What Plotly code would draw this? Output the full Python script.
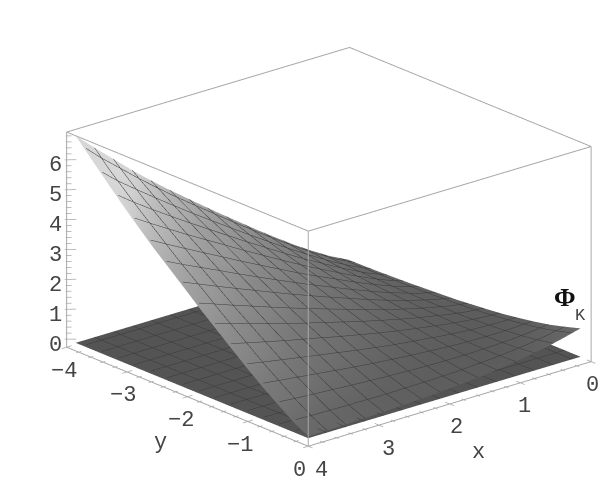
import numpy as np
import plotly.graph_objects as go

# Values
x_vals = [0.15, 0.407, 0.663, 0.92, 1.177, 1.433, 1.69, 1.947, 2.203, 2.46, 2.717, 2.973, 3.23, 3.487, 3.743, 4.0]
y_vals = [0, -0.26, -0.51, -0.77, -1.03, -1.28, -1.54, -1.8, -2.05, -2.31, -2.57, -2.82, -3.08, -3.34, -3.59, -3.85]
x_ticks = [0, 1, 2, 3, 4]
y_ticks = [-4, -3, -2, -1, 0]
z_ticks = [0, 1, 2, 3, 4, 5, 6]
x_range = [0, 4]
y_range = [-4, 0]
z_range = [-0.27, 6.93]

# rows follow x_vals, columns follow y_vals
phi_k = [
    [.95, .79, .65, .54, .45, .37, .31, .26, .21, .18, .15, .12, .10, .08, .07, .06],
    [.79, .67, .57, .50, .44, .40, .36, .34, .33, .32, .31, .32, .32, .33, .34, .36],
    [.65, .57, .52, .48, .46, .45, .45, .46, .48, .50, .53, .56, .60, .63, .67, .72],
    [.54, .50, .48, .48, .49, .52, .56, .60, .65, .70, .76, .83, .90, .97, 1.04, 1.11],
    [.45, .44, .46, .49, .54, .61, .67, .74, .83, .92, 1.02, 1.12, 1.22, 1.32, 1.42, 1.53],
    [.37, .40, .45, .52, .61, .70, .80, .91, 1.03, 1.15, 1.29, 1.41, 1.54, 1.68, 1.82, 1.96],
    [.31, .36, .45, .56, .67, .80, .94, 1.08, 1.24, 1.40, 1.55, 1.72, 1.88, 2.06, 2.23, 2.41],
    [.26, .34, .46, .60, .74, .91, 1.08, 1.27, 1.45, 1.64, 1.83, 2.03, 2.24, 2.44, 2.65, 2.86],
    [.21, .33, .48, .65, .83, 1.03, 1.24, 1.45, 1.67, 1.89, 2.12, 2.36, 2.59, 2.83, 3.08, 3.32],
    [.18, .32, .50, .70, .92, 1.15, 1.40, 1.64, 1.89, 2.15, 2.42, 2.68, 2.96, 3.23, 3.50, 3.79],
    [.15, .31, .53, .76, 1.02, 1.29, 1.55, 1.83, 2.12, 2.42, 2.71, 3.02, 3.33, 3.63, 3.94, 4.26],
    [.12, .32, .56, .83, 1.12, 1.41, 1.72, 2.03, 2.36, 2.68, 3.02, 3.36, 3.69, 4.04, 4.39, 4.75],
    [.10, .32, .60, .90, 1.22, 1.54, 1.88, 2.24, 2.59, 2.96, 3.33, 3.69, 4.07, 4.46, 4.85, 5.27],
    [.08, .33, .63, .97, 1.32, 1.68, 2.06, 2.44, 2.83, 3.23, 3.63, 4.04, 4.46, 4.88, 5.33, 5.82],
    [.07, .34, .67, 1.04, 1.42, 1.82, 2.23, 2.65, 3.08, 3.50, 3.94, 4.39, 4.85, 5.33, 5.80, 6.36],
    [.06, .36, .72, 1.11, 1.53, 1.96, 2.41, 2.86, 3.32, 3.79, 4.26, 4.75, 5.27, 5.82, 6.36, 6.93],
]

frame_color = "#a8a8a8"
mesh_color = "#3a3a3a"
text_color = "#444444"

# plotly wants z[row][col] with rows along y
phi_z = np.array(phi_k).T
plane_z = np.zeros_like(phi_z)

# shade from the slope of the sheet, steep parts come out light
dz_dy, dz_dx = np.gradient(phi_z, y_vals, x_vals)
slope = np.abs(dz_dx) + np.abs(dz_dy)
phi_shade = np.clip(0.36 + 0.036 * slope ** 2, 0, 0.84)
plane_shade = np.full_like(phi_z, 0.33)

fig = go.Figure()

for z, shade in ((plane_z, plane_shade), (phi_z, phi_shade)):
    fig.add_trace(go.Surface(
        x=x_vals, y=y_vals, z=z,
        surfacecolor=shade,
        cmin=0, cmax=1,
        colorscale=[[0, "black"], [1, "white"]],
        showscale=False,
        hoverinfo="skip",
        lighting=dict(ambient=1, diffuse=0, specular=0, roughness=1, fresnel=0),
        contours=dict(
            x=dict(show=True, start=x_range[0], end=x_range[1], size=0.2667, color=mesh_color, width=1, highlight=False),
            y=dict(show=True, start=y_range[0], end=y_range[1], size=0.2667, color=mesh_color, width=1, highlight=False),
            z=dict(highlight=False),
        ),
    ))

x0, x1 = x_range
y0, y1 = y_range
z0, z1 = z_range


def add_lines(segments, width):
    xs, ys, zs = [], [], []
    for seg in segments:
        for p in seg:
            xs.append(p[0]); ys.append(p[1]); zs.append(p[2])
        xs.append(None); ys.append(None); zs.append(None)
    fig.add_trace(go.Scatter3d(x=xs, y=ys, z=zs, mode="lines", line=dict(color=frame_color, width=width),
                               hoverinfo="skip", showlegend=False))


# box edges, without the ones at the back
add_lines([
    [(x1, y0, z1), (x0, y0, z1), (x0, y1, z1), (x1, y1, z1), (x1, y0, z1)],
    [(x1, y0, z0), (x1, y0, z1)],
    [(x1, y1, z0), (x1, y1, z1)],
    [(x0, y1, z0), (x0, y1, z1)],
    [(x1, y0, z0), (x1, y1, z0), (x0, y1, z0)],
], 2)

# tick marks, 5 steps per labelled unit
marks = []
for i in range(0, 21):
    t = i / 5
    size = 0.07 if i % 5 == 0 else 0.035
    marks.append([(t, y1 - size, z0), (t, y1 + size, z0)])
    marks.append([(x1 + size, -t, z0), (x1 - size, -t, z0)])
for i in range(0, 35):
    t = i / 5
    size = 0.08 if i % 5 == 0 else 0.04
    marks.append([(x1 + 0.2 * size, y0 - 0.16 * size, t), (x1 - size, y0 + 0.82 * size, t)])
add_lines(marks, 1.5)

tick_font = dict(family="Liberation Mono", size=22, color=text_color)


def label(x, y, z, text, dx, dy, font=tick_font):
    return dict(x=x, y=y, z=z, text=text, showarrow=False, xshift=dx, yshift=-dy, font=font,
                xanchor="center", yanchor="middle")


notes = []
for t in x_ticks:
    notes.append(label(t, y1, z0, str(t), 1 + 3 * t, 24))
for t in y_ticks:
    notes.append(label(x1, t, z0, str(t).replace("-", "\u2212"), -9 + 1.5 * (-t), 24))
for t in z_ticks:
    notes.append(label(x1, y0, t, str(t), -11, 6))
notes.append(label(2, y1, z0, "x", 29, 49))
notes.append(label(x1, -2, z0, "y", -27, 46))
notes.append(label(x0, y1, z0, "<b>\u03a6</b>", -26, -64,
                   dict(family="Liberation Serif", size=26, color="#111111")))
notes.append(label(x0, y1, z0, "K", -11, -46, dict(family="Liberation Mono", size=17, color=text_color)))

axis_common = dict(showgrid=False, zeroline=False, showline=False, showbackground=False,
                   showspikes=False, ticks="", showticklabels=False, title=dict(text=""))

cx, cy, cz = 0.0916, -0.0781, 0.0305
dist = 2.0
pad = 0.1  # lines right on the range limit get clipped, keep them inside

fig.update_layout(
    width=600, height=480,
    margin=dict(l=0, r=0, t=0, b=0),
    paper_bgcolor="white",
    showlegend=False,
    scene=dict(
        domain=dict(x=[0, 1], y=[0, 1]),
        aspectmode="manual",
        aspectratio=dict(x=1.6275, y=1.6275, z=0.9836),
        camera=dict(
            projection=dict(type="orthographic"),
            eye=dict(x=0.608 * dist + cx, y=0.712 * dist + cy, z=0.35 * dist + cz),
            up=dict(x=0, y=0, z=1),
            center=dict(x=cx, y=cy, z=cz),
        ),
        xaxis=dict(axis_common, range=[x0 - pad, x1 + pad]),
        yaxis=dict(axis_common, range=[y0 - pad, y1 + pad]),
        zaxis=dict(axis_common, range=[z0 - pad, z1 + pad]),
        annotations=notes,
    ),
)

# default body margin pushes the plot past the window edge
fig.write_html("out.html", config={"displayModeBar": False},
               post_script="document.body.style.margin='0';")
